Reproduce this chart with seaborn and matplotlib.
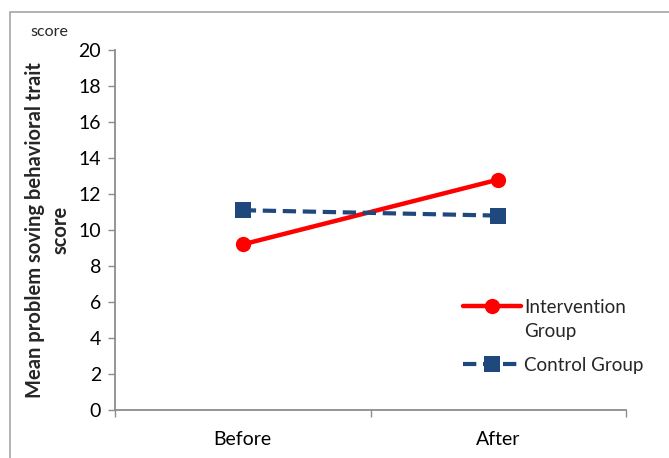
import matplotlib
matplotlib.use("Agg")
import matplotlib.pyplot as plt
import matplotlib.patches as mpatches
from matplotlib.ticker import FixedLocator, NullFormatter
from matplotlib.transforms import IdentityTransform
from matplotlib import font_manager
import seaborn as sns
import pandas as pd

# Values
periods = ["Before", "After"]
intervention = [9.2, 12.8]
control = [11.1, 10.8]
group_names = ["Intervention Group", "Control Group"]

df = pd.DataFrame({
    "period": periods * 2,
    "score": intervention + control,
    "group": [group_names[0]] * 2 + [group_names[1]] * 2,
})

sns.set_theme(style="white")
plt.rcParams["font.family"] = ["Lato", "DejaVu Sans"]

fig = plt.figure(figsize=(6.69, 4.58), dpi=100)
ax = fig.add_axes([115 / 669, 1 - 410 / 458, 511 / 669, 360 / 458])

# Outer chart frame
fig.patches.append(mpatches.Rectangle((10 / 669, -0.05), 1.0, 1 - 12 / 458 + 0.05,
                                      transform=fig.transFigure, fill=False,
                                      edgecolor="#a6a6a6", linewidth=1.2))

# The first group's legend entry wraps onto a second line, with the
# legend handle kept level with the first line.
first_word, rest = group_names[0].split(" ", 1)

sns.lineplot(data=df[df.group == group_names[0]], x="period", y="score",
             ax=ax, color="#ff0000", linewidth=3.2, marker="o", markersize=11,
             markeredgewidth=0, label=first_word, sort=False)
sns.lineplot(data=df[df.group == group_names[1]], x="period", y="score",
             ax=ax, color="#1f497d", linewidth=3.0, linestyle=(0, (3.2, 1.6)),
             marker="s", markersize=11.5, markeredgewidth=0,
             label=group_names[1], sort=False)

ax.set_xlim(-0.5, 1.5)
ax.set_ylim(0, 20)
ax.set_yticks(range(0, 21, 2))
ax.set_xlabel("")

bold_font = font_manager.FontProperties(family=["Lato", "DejaVu Sans"],
                                        weight="bold", size=14.5)
ax.set_ylabel("Mean problem soving behavioral trait\nscore",
              fontproperties=bold_font, labelpad=6, linespacing=1.3)

for side in ["top", "right"]:
    ax.spines[side].set_visible(False)
for side in ["left", "bottom"]:
    ax.spines[side].set_color("#8c8c8c")
    ax.spines[side].set_linewidth(1.3)

ax.tick_params(axis="y", direction="out", length=5, width=1, color="#8c8c8c",
               labelsize=14, labelcolor="black", pad=5, left=True)
ax.tick_params(axis="x", which="major", length=0, labelsize=14,
               labelcolor="black", pad=15)
ax.xaxis.set_minor_locator(FixedLocator([-0.5, 0.5, 1.5]))
ax.xaxis.set_minor_formatter(NullFormatter())
ax.tick_params(axis="x", which="minor", direction="out", length=5, width=1,
               color="#8c8c8c", bottom=True)

fig.text(30 / 669, 1 - 32 / 458, "score", fontsize=11.5, va="center", ha="left")

leg_size = 13.5
leg = ax.legend(loc="upper left", bbox_to_anchor=(446 / 669, 1 - 282 / 458),
                bbox_transform=fig.transFigure, frameon=False, fontsize=leg_size,
                handlelength=3.1, handletextpad=0.15, labelspacing=2.17)

# Second line of the wrapped legend label, placed under the first line
fig.canvas.draw()
first_text = leg.get_texts()[0]
bb = first_text.get_window_extent()
_, _, descent = fig.canvas.get_renderer().get_text_width_height_descent(
    first_text.get_text(), first_text.get_fontproperties(), ismath=False)
fig.text(bb.x0, bb.y0 + descent - 21, rest, fontsize=leg_size,
         ha="left", va="baseline", transform=IdentityTransform())

fig.savefig("out.png", dpi=100)
